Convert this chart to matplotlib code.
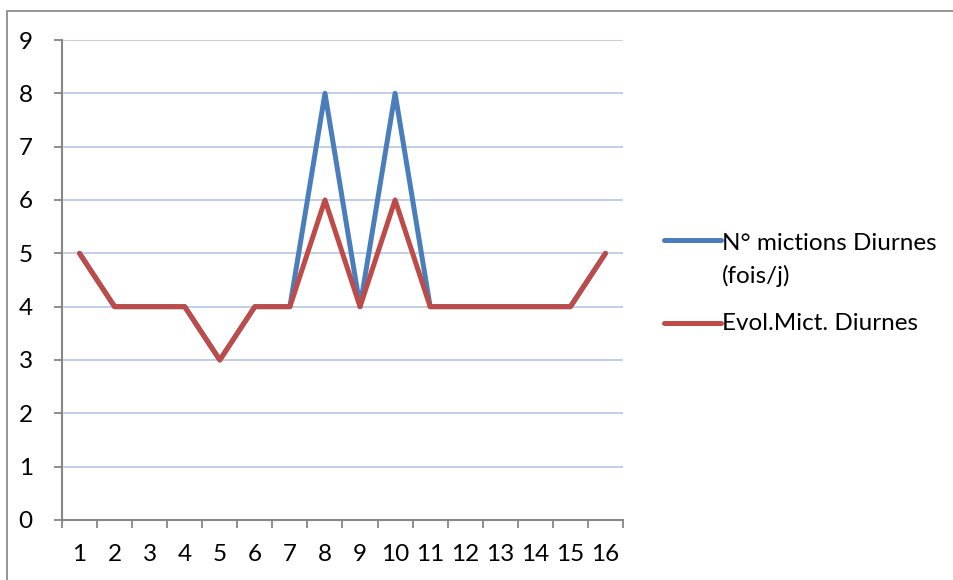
import matplotlib
matplotlib.use("Agg")
import matplotlib.pyplot as plt
from matplotlib.lines import Line2D
from matplotlib.patches import Rectangle

days = [str(i) for i in range(1, 17)]
mictions_diurnes = [5, 4, 4, 4, 3, 4, 4, 8, 4, 8, 4, 4, 4, 4, 4, 5]
evol_mict_diurnes = [5, 4, 4, 4, 3, 4, 4, 6, 4, 6, 4, 4, 4, 4, 4, 5]
y_ticks = list(range(0, 10))

series_labels = ["N° mictions Diurnes\n(fois/j)", "Evol.Mict. Diurnes"]
blue = "#4A7EBB"
red = "#BE4B48"
axis_gray = "#868686"
grid_blue = "#B3C8E6"
fs = 17.5
lw = 3.6

plt.rcParams["font.family"] = ["Lato", "DejaVu Sans"]

W, H = 954, 580
fig = plt.figure(figsize=(W / 100, H / 100), dpi=100)
fig.patch.set_facecolor("white")

# chart frame
fig.add_artist(Rectangle((7 / W, -0.05), 1.1, 1 - 11 / H + 0.05,
                         transform=fig.transFigure, fill=False,
                         edgecolor="#8C8C8C", linewidth=1.3))

ax = fig.add_axes([62 / W, 1 - 520 / H, (623 - 62) / W, (520 - 40) / H])
x = list(range(len(days)))
ax.plot(x, mictions_diurnes, color=blue, lw=lw, solid_joinstyle="round",
        solid_capstyle="round", zorder=3)
ax.plot(x, evol_mict_diurnes, color=red, lw=lw, solid_joinstyle="round",
        solid_capstyle="round", zorder=4)

ax.set_xlim(-0.5, len(days) - 0.5)
ax.set_ylim(0, 9)
ax.set_yticks(y_ticks)
ax.set_yticklabels([str(v) for v in y_ticks], fontsize=fs)
ax.set_xticks(x)
ax.set_xticklabels(days, fontsize=fs)
ax.set_xticks([i - 0.5 for i in range(len(days) + 1)], minor=True)
ax.tick_params(axis="x", which="major", length=0, pad=17)
ax.tick_params(axis="x", which="minor", length=6, width=1.3, color=axis_gray, direction="out")
ax.tick_params(axis="y", length=6, width=1.3, color=axis_gray, direction="out", pad=15)

for v in y_ticks[1:]:
    ax.axhline(v, color=grid_blue, lw=1.2, zorder=1)

for side in ("top", "right"):
    ax.spines[side].set_visible(False)
for side in ("left", "bottom"):
    ax.spines[side].set_color(axis_gray)
    ax.spines[side].set_linewidth(1.5)

# legend
fig.add_artist(Line2D([664 / W, 721 / W], [1 - 240 / H, 1 - 240 / H],
                      transform=fig.transFigure, color=blue, lw=lw,
                      solid_capstyle="round"))
fig.text(722 / W, 1 - 244 / H, "N° mictions Diurnes", fontsize=fs,
         va="center", ha="left")
fig.text(722 / W, 1 - 276 / H, "(fois/j)", fontsize=fs, va="center", ha="left")
fig.add_artist(Line2D([664 / W, 721 / W], [1 - 323 / H, 1 - 323 / H],
                      transform=fig.transFigure, color=red, lw=lw,
                      solid_capstyle="round"))
fig.text(722 / W, 1 - 324 / H, series_labels[1], fontsize=fs,
         va="center", ha="left")

fig.savefig("out.png", dpi=100)
